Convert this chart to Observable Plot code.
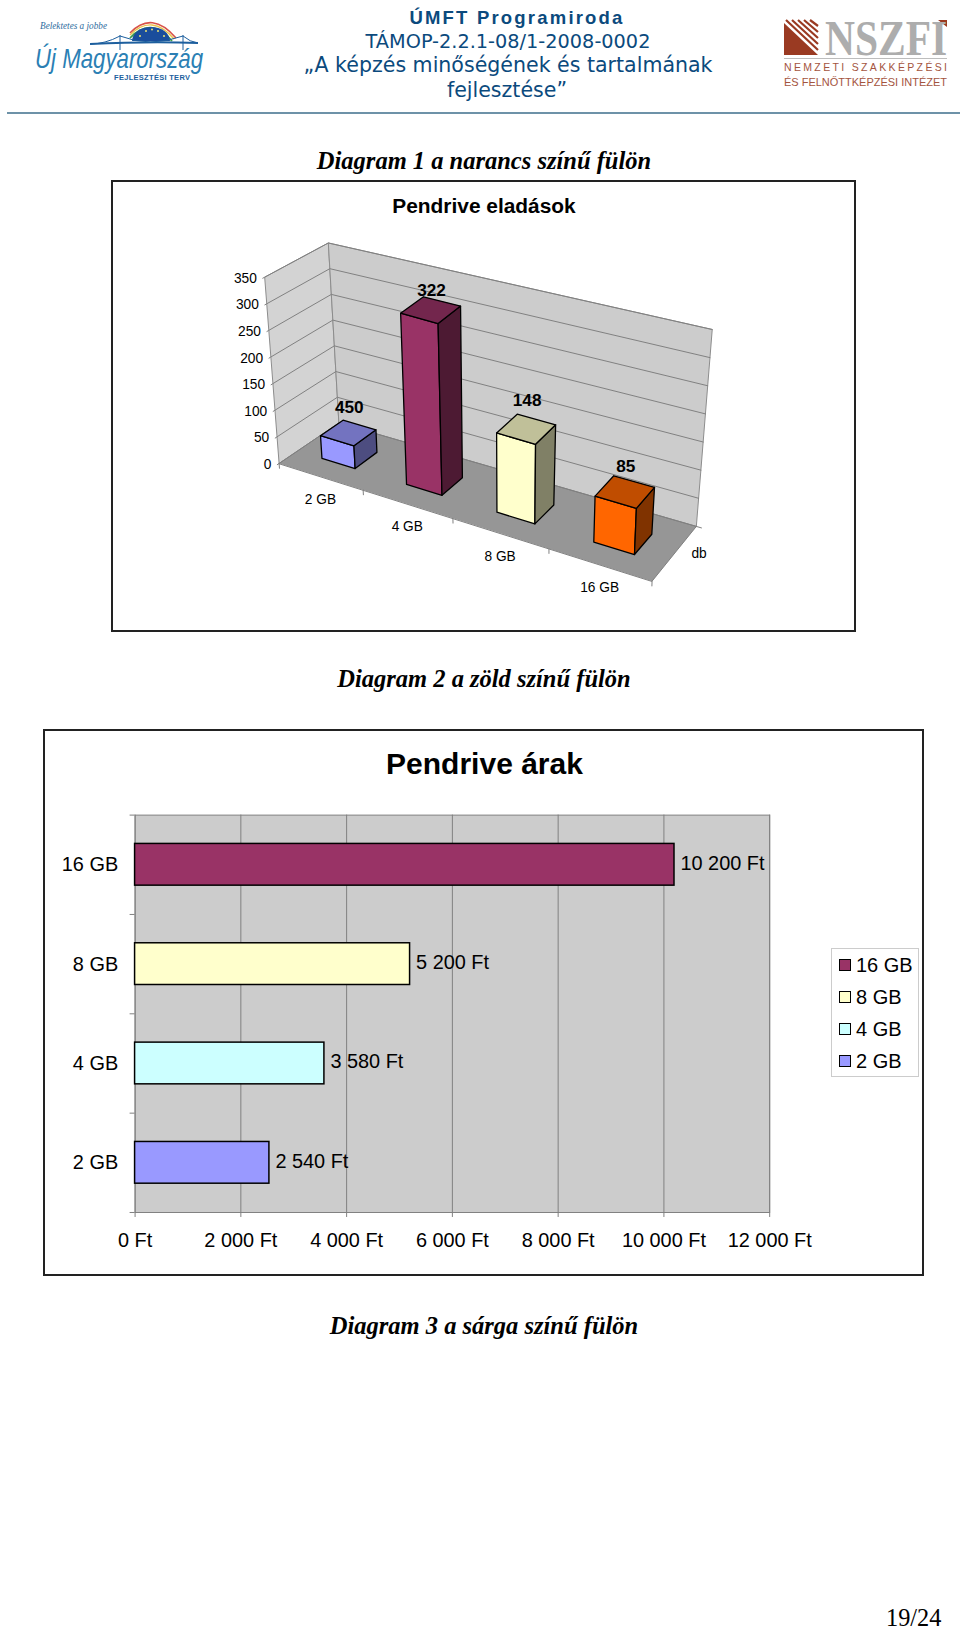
<!DOCTYPE html>
<html lang="hu">
<head>
<meta charset="utf-8">
<script src="https://cdn.jsdelivr.net/npm/d3@7"></script>
<script src="https://cdn.jsdelivr.net/npm/@observablehq/plot@0.6"></script>
<style>
html,body{margin:0;padding:0;background:#fff;width:960px;height:1628px;overflow:hidden}
body{position:relative;font-family:"Liberation Sans",Arial,sans-serif}
.abs{position:absolute;white-space:nowrap}
.c{transform:translate(-50%,-50%)}
.head{font-family:"DejaVu Sans",sans-serif;color:#0b4a7d;font-size:20px}
.diag{font-family:"Liberation Serif",serif;font-weight:bold;font-style:italic;font-size:24.5px;color:#000}
.frame{position:absolute;box-sizing:border-box;border:2px solid #222;background:#fff}
.frame svg{position:absolute;left:-2px;top:-2px;overflow:visible}
.leg{position:absolute;left:831px;top:948px;width:88px;height:129px;box-sizing:border-box;border:1px solid #ccc;background:#fff}
.sw{position:absolute;width:12px;height:12px;box-sizing:border-box;border:1.5px solid #000}
.lt{position:absolute;font-size:20px;line-height:20px;transform:translateY(-50%)}
</style>
</head>
<body>
<div id="root"></div>
<script>
// ---- data ----
const salesCategories = ["2 GB", "4 GB", "8 GB", "16 GB"];
const salesValues = [43, 322, 148, 85];
const salesLabels = ["450", "322", "148", "85"];
const salesTicks = [0, 50, 100, 150, 200, 250, 300, 350];
const salesFront = ["#9999ff", "#993366", "#ffffcc", "#ff6600"];
const salesTop = ["#7373c0", "#73264d", "#c0c099", "#c04d00"];
const salesSide = ["#4d4d80", "#4d1a33", "#808066", "#803300"];
const priceCategories = ["2 GB", "4 GB", "8 GB", "16 GB"];
const priceValues = [2540, 3580, 5200, 10200];
const priceColors = ["#9999ff", "#ccffff", "#ffffcc", "#993366"];
const priceTicks = [0, 2000, 4000, 6000, 8000, 10000, 12000];
const huFt = v => String(v).replace(/\B(?=(\d{3})+$)/g, " ") + " Ft";

const root = document.getElementById("root");
function add(cls, text, css) {
  const d = document.createElement("div");
  d.className = cls; d.textContent = text; d.style.cssText = css; root.appendChild(d); return d;
}

// ---- page header ----
add("abs c head", "ÚMFT Programiroda", "left:517px;top:18px;font-size:18.5px;font-weight:bold;letter-spacing:2.2px;font-family:'Liberation Sans',sans-serif");
add("abs c head", "TÁMOP-2.2.1-08/1-2008-0002", "left:508px;top:40.5px;font-size:19.3px");
add("abs c head", "„A képzés minőségének és tartalmának", "left:508px;top:65px;font-size:20.55px");
add("abs c head", "fejlesztése”", "left:507px;top:89.5px;font-size:20.55px");
add("abs", "", "left:7px;top:112px;width:953px;height:2px;background:#6d92a8");

// logos as inline drawings with real text
const logoL = document.createElement("div");
logoL.innerHTML = `<svg class="abs" style="left:0;top:0" width="300" height="100" viewBox="0 0 300 100">
<path d="M130 33Q152 10 176 38" fill="none" stroke="#d8534a" stroke-width="1.6"/>
<path d="M130 35Q152 13 174 39" fill="none" stroke="#e8c34a" stroke-width="1.4"/>
<path d="M130 38Q151 16 172 41" fill="none" stroke="#3a9a4a" stroke-width="1.8"/>
<path d="M132 41A19 14 0 0 1 170 41Z" fill="#1a4d9c"/>
<g fill="#e8e070"><circle cx="140" cy="36" r="1"/><circle cx="146" cy="31" r="1"/><circle cx="152" cy="29.5" r="1"/><circle cx="158" cy="31" r="1"/><circle cx="164" cy="36" r="1"/></g>
<path d="M90 44Q150 41 198 43" stroke="#1d5f9e" stroke-width="2" fill="none"/>
<path d="M120 35V50M183 35V50M120 36Q105 44 90 44M120 36Q150 48 183 36M183 36Q190 42 198 43" stroke="#1d5f9e" stroke-width="1" fill="none"/>
<text x="40" y="29" font-family="Liberation Serif" font-style="italic" font-size="10.5" fill="#2f6d9e" textLength="67" lengthAdjust="spacingAndGlyphs">Belektetes a jobbe</text>
<text x="35" y="67.5" font-family="Liberation Sans" font-style="italic" font-size="28" fill="#2b7fb4" textLength="168" lengthAdjust="spacingAndGlyphs">Új Magyarország</text>
<text x="114" y="79.5" font-family="Liberation Sans" font-weight="bold" font-size="7.5" fill="#1d5f9e" textLength="76">FEJLESZTÉSI TERV</text>
</svg>`;
root.appendChild(logoL);
const logoR = document.createElement("div");
logoR.innerHTML = `<svg class="abs" style="left:0;top:0" width="960" height="100" viewBox="0 0 960 100">
<path d="M784 23L818 55H784Z" fill="#9a3a22"/>
<path d="M786 20L818 50M792 20L818 44M798 20L818 38M804 20L818 32M810 20L818 26" stroke="#9a3a22" stroke-width="2.2" fill="none"/>
<path d="M938 20H947V27Z" fill="#9a3a22"/>
<path d="M784 58.5H947" stroke="#bdbdbd" stroke-width="1"/>
<text x="784" y="71" font-family="Liberation Sans" font-size="10.5" fill="#a4543e" textLength="163">NEMZETI SZAKKÉPZÉSI</text>
<text x="784" y="86" font-family="Liberation Sans" font-size="11" fill="#a4543e" textLength="163" lengthAdjust="spacingAndGlyphs">ÉS FELNŐTTKÉPZÉSI INTÉZET</text>
</svg>`;
root.appendChild(logoR);
add("abs", "NSZFI", "left:825px;top:21px;height:34px;font-family:'Liberation Serif',serif;font-weight:bold;font-size:50px;line-height:34px;color:#adadad;transform-origin:0 50%;transform:scaleX(0.83)");

add("abs c diag", "Diagram 1 a narancs színű fülön", "left:484px;top:161px");
add("abs c diag", "Diagram 2 a zöld színű fülön", "left:484px;top:679px");
add("abs c diag", "Diagram 3 a sárga színű fülön", "left:484px;top:1326px");
add("abs", "19/24", "left:886px;top:1604px;font-family:'Liberation Serif',serif;font-size:24.3px;line-height:28px");

// ---- chart 1: 3D columns, projected through a camera model ----
const F1 = {left: 111, top: 179.5, width: 745, height: 452};
const frame1 = document.createElement("div");
frame1.className = "frame";
frame1.style.cssText = `left:${F1.left}px;top:${F1.top}px;width:${F1.width}px;height:${F1.height}px`;
root.appendChild(frame1);
add("abs c", "Pendrive eladások", "left:484px;top:206px;font-weight:bold;font-size:20.9px");

// camera: box corners [bottom, top] for front-left, back-left, back-right, front-right
const cam = {
  fl: [[279.5, 464.0], [265.0, 276.7]],
  bl: [[339.6, 423.3], [329.0, 242.3]],
  br: [[699.0, 527.3], [715.0, 329.3]],
  fr: [[654.5, 582.3], [661.5, 394.0]],
  k: 1.146
};
const vMax = 350;
function project(c, d, v) { // c category position 0..4, d depth 0..1, v value
  const t0 = c / 4, t = t0 / (t0 + cam.k * (1 - t0)), h = v / vMax;
  const lerp = (a, b, u) => a + (b - a) * u;
  const at = corner => [lerp(corner[0][0], corner[1][0], h), lerp(corner[0][1], corner[1][1], h)];
  const a = at(cam.fl), b = at(cam.bl), e = at(cam.br), f = at(cam.fr);
  const front = [lerp(a[0], f[0], t), lerp(a[1], f[1], t)];
  const back = [lerp(b[0], e[0], t), lerp(b[1], e[1], t)];
  return [lerp(front[0], back[0], d), lerp(front[1], back[1], d)];
}
const walls = [], bars = [];
function face(list, id, fill, stroke, corners) {
  corners.forEach(([c, d, v]) => {
    const [px, py] = project(c, d, v);
    list.push({id, fill, stroke, px, py});
  });
}
face(walls, "left", "#d3d3d3", "#8c8c8c", [[0,0,0],[0,0,vMax],[0,1,vMax],[0,1,0]]);
face(walls, "back", "#cccccc", "#8c8c8c", [[0,1,0],[0,1,vMax],[4,1,vMax],[4,1,0]]);
face(walls, "floor", "#969696", "#808080", [[0,0,0],[0,1,0],[4,1,0],[4,0,0]]);
const barW0 = 0.3, barW1 = 0.7, d0 = 0.31, d1 = 0.69;
salesValues.forEach((v, i) => {
  const a = i + barW0, b = i + barW1;
  face(bars, "f" + i, salesFront[i], "#000", [[a,d0,0],[a,d0,v],[b,d0,v],[b,d0,0]]);
  face(bars, "s" + i, salesSide[i], "#000", [[b,d0,0],[b,d0,v],[b,d1,v],[b,d1,0]]);
  face(bars, "t" + i, salesTop[i], "#000", [[a,d0,v],[a,d1,v],[b,d1,v],[b,d0,v]]);
});
const segs = [];
function seg(id, pts) {
  pts.forEach(([c, d, v]) => { const [px, py] = project(c, d, v); segs.push({id, px, py}); });
}
salesTicks.forEach(v => seg("g" + v, [[0,-0.03,v],[0,0,v],[0,1,v],[4,1,v]]));
[0,1,2,3,4].forEach(c => seg("x" + c, [[c,0,0],[c,0,-9]]));
seg("z", [[4,1,0],[4.05,1,0]]);

const tickTexts = salesTicks.map(v => { const [px, py] = project(0, -0.03, v); return {label: String(v), px, py}; });
const catTexts = salesCategories.map((s, i) => { const [px, py] = project(i + 0.5, 0, 0); return {label: s, px, py}; });
const valueLift = [-26, -19.5, -29, -26];
const valueTexts = salesValues.map((v, i) => {
  const [px, py] = project(i + 0.5, 0.5, v);
  return {label: salesLabels[i], px, py: py + valueLift[i]};
});
const [dbx, dby] = project(4, 0.5, 0);

frame1.appendChild(Plot.plot({
  width: F1.width, height: F1.height, margin: 0,
  style: {background: "transparent", fontFamily: "Liberation Sans, Arial, sans-serif"},
  x: {type: "linear", domain: [F1.left, F1.left + F1.width], range: [0, F1.width], axis: null},
  y: {type: "linear", domain: [F1.top, F1.top + F1.height], range: [0, F1.height], axis: null},
  marks: [
    Plot.line(walls, {x: "px", y: "py", z: "id", fill: "fill", stroke: "stroke", strokeWidth: 1, curve: "linear-closed"}),
    Plot.line(segs, {x: "px", y: "py", z: "id", stroke: "#808080", strokeWidth: 1}),
    Plot.line(bars, {x: "px", y: "py", z: "id", fill: "fill", stroke: "#000", strokeWidth: 1.3, strokeLinejoin: "round", curve: "linear-closed"}),
    Plot.text(tickTexts, {x: "px", y: "py", text: "label", textAnchor: "end", dx: -6, fontSize: 13.8, fill: "#000"}),
    Plot.text(catTexts, {x: "px", y: "py", text: "label", dy: 23.3, fontSize: 13.8, fill: "#000"}),
    Plot.text(valueTexts, {x: "px", y: "py", text: "label", dx: 1, fontSize: 17.3, fontWeight: "bold", fill: "#000"}),
    Plot.text([{label: "db", px: dbx, py: dby}], {x: "px", y: "py", text: "label", dx: 25, dy: 0, fontSize: 13.8, fill: "#000"})
  ]
}));

// ---- chart 2: horizontal bars ----
const F2 = {left: 43, top: 728.5, width: 881, height: 547};
const frame2 = document.createElement("div");
frame2.className = "frame";
frame2.style.cssText = `left:${F2.left}px;top:${F2.top}px;width:${F2.width}px;height:${F2.height}px`;
root.appendChild(frame2);
add("abs c", "Pendrive árak", "left:484.5px;top:764px;font-weight:bold;font-size:30px");

const rows = priceCategories.map((c, i) => ({c, i, v: priceValues[i], fill: priceColors[i], label: huFt(priceValues[i])}));
frame2.appendChild(Plot.plot({
  width: F2.width, height: F2.height,
  marginLeft: 92, marginRight: 151.5, marginTop: 86, marginBottom: 61.8,
  style: {background: "transparent", fontFamily: "Liberation Sans, Arial, sans-serif", fontSize: "20px", color: "#000"},
  x: {domain: [0, 12000], axis: null},
  y: {domain: [0, 4], axis: null},
  marks: [
    Plot.frame({fill: "#cccccc", stroke: "#808080"}),
    Plot.gridX(priceTicks, {stroke: "#808080", strokeOpacity: 1, strokeWidth: 1}),
    Plot.axisX({ticks: priceTicks, tickFormat: huFt, label: null, tickSize: 5, tickPadding: 15, stroke: "#808080", fontSize: 20, fill: "#000"}),
    Plot.axisY({ticks: [0, 1, 2, 3, 4], label: null, tickFormat: () => "", tickSize: 5, stroke: "#808080"}),
    Plot.axisY({ticks: [0.5, 1.5, 2.5, 3.5], label: null, tickSize: 0, tickPadding: 17, tickFormat: y => priceCategories[Math.floor(y)], fontSize: 20, fill: "#000"}),
    Plot.rectX(rows, {x1: 0, x2: "v", y1: d => d.i + 0.29, y2: d => d.i + 0.71, fill: "fill", stroke: "#000", strokeWidth: 1.5}),
    Plot.text(rows, {x: "v", y: d => d.i + 0.5, text: "label", textAnchor: "start", dx: 6, dy: -1.5, fontSize: 20, fill: "#000"})
  ]
}));

// legend
const leg = document.createElement("div");
leg.className = "leg";
root.appendChild(leg);
[3, 2, 1, 0].forEach((i, k) => {
  const cy = [16.4, 48.2, 80.2, 112.2][k];
  const s = document.createElement("div");
  s.className = "sw"; s.style.cssText = `left:7px;top:${cy - 6}px;background:${priceColors[i]}`;
  leg.appendChild(s);
  const t = document.createElement("div");
  t.className = "lt"; t.textContent = priceCategories[i]; t.style.cssText = `left:24px;top:${cy}px`;
  leg.appendChild(t);
});
</script>
</body>
</html>
